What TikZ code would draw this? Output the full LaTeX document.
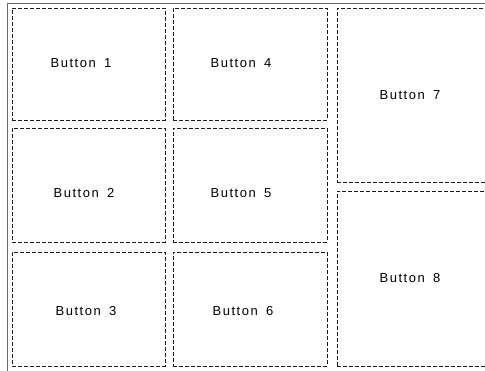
\documentclass[tikz,border=0pt]{standalone}
\usepackage{fontspec}
\setmainfont[LetterSpace=12,WordSpace=1.6]{Liberation Sans}
\begin{document}
\begin{tikzpicture}[x=1pt,y=-1pt,
	btn/.style={draw=black!90,dash pattern=on 4pt off 2pt,line width=0.9pt,
	inner sep=0,outer sep=0},
	lbl/.style={font=\fontsize{13}{15}\selectfont,inner sep=0}]
\useasboundingbox (0,0) rectangle (485,370);
\draw[black!60,line width=1pt] (7,372) -- (7,3) -- (487,3);
\node[btn,minimum width=153pt,minimum height=112pt] (b1) at (88.5,64) {};
\node[btn,minimum width=153pt,minimum height=114pt] (b2) at (88.5,185) {};
\node[btn,minimum width=153pt,minimum height=114pt] (b3) at (88.5,309) {};
\node[btn,minimum width=154pt,minimum height=112pt] (b4) at (250,64) {};
\node[btn,minimum width=154pt,minimum height=114pt] (b5) at (250,185) {};
\node[btn,minimum width=154pt,minimum height=114pt] (b6) at (250,309) {};
\node[btn,minimum width=154pt,minimum height=174pt] (b7) at (414,95) {};
\node[btn,minimum width=154pt,minimum height=175pt] (b8) at (414,278.5) {};
\node[lbl] (l1) at (81,63) {Button 1};
\node[lbl] (l2) at (84,193) {Button 2};
\node[lbl] (l3) at (86,311) {Button 3};
\node[lbl] (l4) at (241,63) {Button 4};
\node[lbl] (l5) at (241,193) {Button 5};
\node[lbl] (l6) at (243,311) {Button 6};
\node[lbl] (l7) at (410,95) {Button 7};
\node[lbl] (l8) at (410,278) {Button 8};
\end{tikzpicture}
\end{document}
